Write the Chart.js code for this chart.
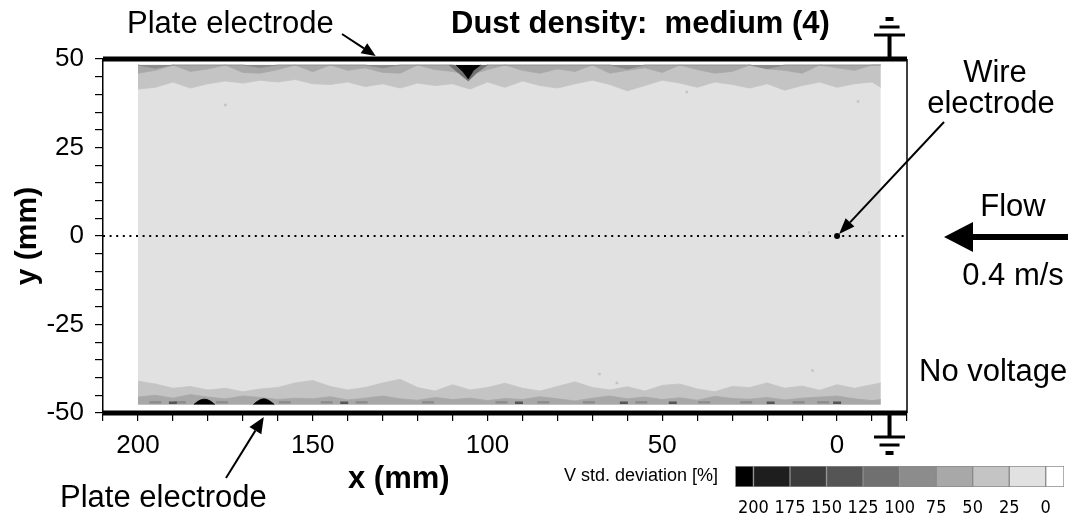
<!DOCTYPE html>
<html>
<head>
<meta charset="utf-8">
<script src="https://cdn.jsdelivr.net/npm/chart.js@4/dist/chart.umd.min.js"></script>
<style>
  body { margin: 0; background: #fff; }
  #wrap { position: relative; width: 1076px; height: 517px; overflow: hidden; }
  #chart { position: absolute; left: 0; top: 0; }
  #bar { position: absolute; left: 735px; top: 466px; }
</style>
</head>
<body>
<div id="wrap">
  <canvas id="chart" width="1076" height="517"></canvas>
  <canvas id="bar" width="329" height="50"></canvas>
</div>
<script>
const FONT = '"Liberation Sans", Arial, Helvetica, sans-serif';
const NARROW = '"Liberation Sans Narrow", "DejaVu Sans Condensed", "Liberation Sans", sans-serif';

// axes
const X_TICKS = [-20, -10, 0, 10, 20, 30, 40, 50, 60, 70, 80, 90, 100, 110, 120, 130, 140, 150, 160, 170, 180, 190, 200, 210];
const X_LABELS = [200, 150, 100, 50, 0];
const Y_TICKS = [-50, -45, -40, -35, -30, -25, -20, -15, -10, -5, 0, 5, 10, 15, 20, 25, 30, 35, 40, 45, 50];
const Y_LABELS = [50, 25, 0, -25, -50];

// measured region (mm)
const REGION_X = [200, -12.5];
const REGION_TOP = 48.3;
const REGION_BOTTOM = -47.6;

// contour edges sampled along x
const BAND_X = [200, 195, 190, 185, 180, 175, 170, 165, 160, 155, 150, 145, 140, 135, 130, 125, 120, 115, 110, 105, 100, 95, 90, 85, 80, 75, 70, 65, 60, 55, 50, 45, 40, 35, 30, 25, 20, 15, 10, 5, 0, -5, -10, -12.5];
// 25-50 % level, lower edge of the band under the top plate
const TOP_BAND_1 = [41.5, 42.0, 43.5, 41.8, 43.0, 43.8, 43.2, 44.0, 43.5, 44.2, 43.0, 42.8, 43.5, 42.2, 43.0, 41.8, 43.2, 42.5, 43.0, 41.5, 43.5, 42.0, 43.8, 42.5, 41.8, 43.0, 44.0, 42.8, 41.0, 42.5, 44.0, 43.2, 42.0, 43.5, 42.8, 41.8, 43.0, 41.2, 42.5, 43.5, 42.0, 43.0, 43.5, 42.0];
// 50-75 % level
const TOP_BAND_2 = [46.0, 46.8, 48.3, 46.5, 47.2, 48.3, 46.2, 46.0, 47.0, 48.3, 46.4, 48.3, 46.8, 47.5, 46.2, 46.0, 48.3, 47.0, 46.5, 45.5, 47.0, 48.3, 46.8, 46.0, 47.2, 46.5, 48.3, 46.0, 46.8, 47.5, 46.2, 48.3, 47.0, 46.0, 46.5, 48.3, 47.2, 46.8, 46.0, 48.3, 47.5, 46.8, 48.3, 48.3];
// 75-100 % level
const TOP_BAND_3 = [48.3, 47.4, 48.3, 48.3, 48.3, 48.3, 48.3, 47.6, 48.3, 48.3, 48.3, 48.3, 48.3, 48.3, 47.5, 48.3, 48.3, 48.3, 48.3, 47.0, 48.3, 48.3, 48.3, 48.3, 48.3, 48.3, 48.3, 48.3, 47.2, 48.3, 48.3, 48.3, 48.3, 48.3, 48.3, 48.3, 47.3, 48.3, 48.3, 48.3, 48.3, 48.3, 48.3, 48.3];
// dark spot at the top plate
const TOP_HALO_X = [111, 108, 105.5, 103, 100];
const TOP_HALO_Y = [48.3, 45.8, 43.8, 46.2, 48.3];
const TOP_SPOT_X = [109, 107, 105.5, 104, 102];
const TOP_SPOT_Y = [48.3, 46.4, 44.4, 46.8, 48.3];

// 25-50 % level, upper edge of the band over the bottom plate
const BOT_BAND_1 = [-41.0, -41.8, -43.0, -42.5, -43.5, -43.0, -44.0, -43.2, -42.8, -41.5, -40.8, -42.5, -43.5, -42.8, -41.5, -40.5, -42.8, -43.8, -42.0, -43.5, -42.8, -41.6, -43.0, -43.8, -42.5, -41.2, -42.8, -43.5, -42.6, -43.8, -42.2, -41.8, -43.2, -44.0, -42.5, -42.8, -41.5, -43.0, -42.4, -43.6, -42.0, -43.0, -42.0, -41.5];
// 50-75 % level
const BOT_BAND_2 = [-45.5, -45.0, -45.8, -44.8, -45.5, -46.0, -45.2, -45.6, -46.2, -45.8, -46.0, -45.4, -46.3, -45.8, -45.2, -46.0, -46.4, -45.6, -46.2, -45.8, -46.5, -45.9, -46.2, -45.4, -46.0, -46.6, -45.8, -45.2, -46.0, -45.5, -46.2, -45.7, -46.4, -45.3, -45.9, -46.1, -45.6, -46.3, -45.8, -45.5, -45.2, -46.0, -46.5, -46.2];
// small darker streaks on the bottom edge
const SMUDGE_MID_X = [195, 188, 176, 158, 146, 136, 117, 96, 84, 71, 56, 38, 26, 11, 4];
const SMUDGE_MID_Y = [-47.0, -47.0, -47.0, -47.0, -47.0, -47.0, -47.0, -47.0, -47.0, -47.0, -47.0, -47.0, -47.0, -47.0, -47.0];
const SMUDGE_DARK_X = [190, 141, 91, 61, 47, 19, 0];
const SMUDGE_DARK_Y = [-47.1, -47.1, -47.1, -47.1, -47.1, -47.1, -47.1];
// black spots on the bottom edge
const BOT_SPOT_1_X = [184, 182.5, 181, 179.5, 178];
const BOT_SPOT_1_Y = [-47.6, -46.5, -46.1, -46.5, -47.6];
const BOT_SPOT_2_X = [167, 165.5, 164, 162.5, 161];
const BOT_SPOT_2_Y = [-47.6, -46.5, -46.0, -46.5, -47.6];

// isolated specks
const FLECK_X = [175, 43, -6, 68, 63, 7, 8];
const FLECK_Y = [37, 40.7, 38, -39, -41.5, -38, 1];

// wire electrode
const WIRE_X = [0];
const WIRE_Y = [0];

// colour scale
const LEVEL_EDGES = [212.5, 200, 175, 150, 125, 100, 75, 50, 25, 0, -12.5];
const LEVEL_TICKS = [200, 175, 150, 125, 100, 75, 50, 25, 0];
const LEVEL_COLORS = ['#000000', '#1e1e1e', '#3c3c3c', '#555555', '#707070', '#8c8c8c', '#a8a8a8', '#c4c4c4', '#e1e1e1', '#ffffff'];

const pts = (xs, ys) => xs.map((x, i) => ({ x, y: ys[i] }));

function area(xs, ys, edge, color, order, tension) {
    return {
        data: pts(xs, ys),
        fill: { value: edge },
        backgroundColor: color,
        borderColor: color,
        borderWidth: 0.8,
        pointRadius: 0,
        tension: tension || 0,
        order: order
    };
}

function arrow(ctx, x1, y1, x2, y2, lw, hl, hw) {
    const a = Math.atan2(y2 - y1, x2 - x1);
    const bx = x2 - hl * Math.cos(a), by = y2 - hl * Math.sin(a);
    ctx.lineWidth = lw;
    ctx.beginPath(); ctx.moveTo(x1, y1); ctx.lineTo(bx, by); ctx.stroke();
    ctx.beginPath();
    ctx.moveTo(x2, y2);
    ctx.lineTo(bx + hw * Math.sin(a), by - hw * Math.cos(a));
    ctx.lineTo(bx - hw * Math.sin(a), by + hw * Math.cos(a));
    ctx.closePath(); ctx.fill();
}

// ground symbol, dir -1 = above the plate, +1 = below
function ground(ctx, cx, y0, dir) {
    ctx.fillRect(cx - 2, Math.min(y0, y0 + dir * 24), 4, 24);
    ctx.fillRect(cx - 15.5, y0 + dir * 24 - 1.5, 31, 3);
    ctx.fillRect(cx - 10, y0 + dir * 32 - 1.5, 20, 3);
    ctx.fillRect(cx - 4, y0 + dir * 40 - 2, 8, 4);
}

const annotations = {
    id: 'annotations',
    afterDraw(chart) {
        const { ctx, chartArea: ca, scales: { x, y } } = chart;
        ctx.save();
        ctx.fillStyle = '#000';
        ctx.strokeStyle = '#000';
        ctx.textBaseline = 'alphabetic';

        ctx.font = '31px ' + FONT;
        ctx.textAlign = 'left';
        ctx.fillText('Plate electrode', 127, 33);
        ctx.fillText('Plate electrode', 60, 507);
        ctx.fillText('No voltage', 919, 381);
        ctx.textAlign = 'center';
        ctx.fillText('Wire', 995, 82);
        ctx.fillText('electrode', 991, 113);
        ctx.fillText('Flow', 1013, 216);
        ctx.fillText('0.4 m/s', 1013, 285);

        ctx.font = 'bold 31px ' + FONT;
        ctx.textAlign = 'left';
        ctx.fillText('Dust density:  medium (4)', 451, 33);
        ctx.fillText('x (mm)', 348, 488);

        ctx.font = '18px ' + FONT;
        ctx.textAlign = 'right';
        ctx.fillText('V std. deviation [%]', 718, 481);

        const x0 = x.getPixelForValue(0), y0 = y.getPixelForValue(0);
        arrow(ctx, 342, 34, x.getPixelForValue(132), ca.top - 3, 2, 14, 6);
        arrow(ctx, 226, 478, x.getPixelForValue(164), ca.bottom + 4, 2, 16, 7);
        arrow(ctx, 944, 122, x0 + 2, y0 - 2, 2, 16, 6);
        arrow(ctx, 1068, y0 + 1, 944, y0 + 1, 6, 29, 15);

        const gx = x.getPixelForValue(-15);
        ground(ctx, gx, ca.top, -1);
        ground(ctx, gx, ca.bottom, 1);
        ctx.restore();
    }
};

new Chart(document.getElementById('chart'), {
    type: 'line',
    data: {
        datasets: [
            area(REGION_X, [REGION_TOP, REGION_TOP], REGION_BOTTOM, LEVEL_COLORS[8], 30),
            area(BAND_X, TOP_BAND_1, REGION_TOP, LEVEL_COLORS[7], 29),
            area(BAND_X, TOP_BAND_2, REGION_TOP, LEVEL_COLORS[6], 28),
            area(BAND_X, TOP_BAND_3, REGION_TOP, LEVEL_COLORS[5], 27),
            area(TOP_HALO_X, TOP_HALO_Y, REGION_TOP, LEVEL_COLORS[4], 26),
            area(TOP_SPOT_X, TOP_SPOT_Y, REGION_TOP, LEVEL_COLORS[0], 25),
            area(BAND_X, BOT_BAND_1, REGION_BOTTOM, LEVEL_COLORS[7], 24),
            area(BAND_X, BOT_BAND_2, REGION_BOTTOM, LEVEL_COLORS[6], 23),
            {
                data: pts(SMUDGE_MID_X, SMUDGE_MID_Y), showLine: false, order: 22,
                pointStyle: 'line', pointRadius: 6, pointBorderWidth: 2.5, pointBorderColor: LEVEL_COLORS[5]
            },
            {
                data: pts(SMUDGE_DARK_X, SMUDGE_DARK_Y), showLine: false, order: 21,
                pointStyle: 'line', pointRadius: 4, pointBorderWidth: 2.5, pointBorderColor: LEVEL_COLORS[3]
            },
            area(BOT_SPOT_1_X, BOT_SPOT_1_Y, REGION_BOTTOM, LEVEL_COLORS[0], 20, 0.4),
            area(BOT_SPOT_2_X, BOT_SPOT_2_Y, REGION_BOTTOM, LEVEL_COLORS[0], 20, 0.4),
            {
                data: pts(FLECK_X, FLECK_Y), showLine: false, order: 19,
                pointStyle: 'rect', pointRadius: 1.8, pointBorderWidth: 0, pointBackgroundColor: LEVEL_COLORS[7]
            },
            // dotted centre line through the wire
            {
                data: pts([210, -20], [0, 0]), borderColor: '#000', borderWidth: 2,
                borderDash: [2, 4.6], pointRadius: 0, order: 5
            },
            // plates
            {
                data: pts([210, -20], [50, 50]), borderColor: '#000', borderWidth: 5,
                pointRadius: 0, clip: false, order: 3
            },
            {
                data: pts([210, -20], [-50, -50]), borderColor: '#000', borderWidth: 5,
                pointRadius: 0, clip: false, order: 3
            },
            {
                data: pts([-20, -20], [-50, 50]), borderColor: '#000', borderWidth: 1.5,
                pointRadius: 0, clip: false, order: 3
            },
            {
                data: pts(WIRE_X, WIRE_Y), showLine: false, order: 1,
                pointRadius: 3, pointBackgroundColor: '#000', pointBorderWidth: 0
            }
        ]
    },
    options: {
        responsive: false,
        animation: false,
        events: [],
        layout: { padding: { top: 59, right: 169, left: 0, bottom: 0 } },
        plugins: { legend: { display: false }, tooltip: { enabled: false } },
        scales: {
            x: {
                type: 'linear',
                reverse: true,
                min: -20,
                max: 210,
                afterBuildTicks: s => { s.ticks = X_TICKS.map(v => ({ value: v })); },
                afterFit: s => { s.height = 104; },
                ticks: {
                    autoSkip: false, maxRotation: 0, padding: 9, color: '#000',
                    font: { family: FONT, size: 26 },
                    callback: v => X_LABELS.includes(v) ? String(v) : ''
                },
                grid: { drawOnChartArea: false, color: '#000', tickLength: 8, lineWidth: 1.2 },
                border: { color: '#000', width: 1.5 }
            },
            y: {
                type: 'linear',
                min: -50,
                max: 50,
                afterBuildTicks: s => { s.ticks = Y_TICKS.map(v => ({ value: v })); },
                afterFit: s => { s.width = 103; },
                ticks: {
                    autoSkip: false, padding: 11, color: '#000',
                    font: { family: FONT, size: 26 },
                    callback: v => Y_LABELS.includes(v) ? String(v) : ''
                },
                grid: { drawOnChartArea: false, color: '#000', tickLength: 8, lineWidth: 1.2 },
                border: { color: '#000', width: 1.5 },
                title: {
                    display: true, text: 'y (mm)', color: '#000',
                    font: { family: FONT, size: 30, weight: 'bold' },
                    padding: { top: 10, bottom: 0 }
                }
            }
        }
    },
    plugins: [annotations]
});

// colour scale bar
new Chart(document.getElementById('bar'), {
    type: 'bar',
    data: {
        labels: [''],
        datasets: LEVEL_COLORS.map((c, i) => ({
            data: [[LEVEL_EDGES[i + 1], LEVEL_EDGES[i]]],
            backgroundColor: c,
            borderColor: '#8a8a8a',
            borderWidth: 1,
            borderSkipped: false,
            grouped: false,
            barPercentage: 1,
            categoryPercentage: 1
        }))
    },
    options: {
        indexAxis: 'y',
        responsive: false,
        animation: false,
        events: [],
        layout: { padding: 0 },
        plugins: { legend: { display: false }, tooltip: { enabled: false } },
        scales: {
            y: { display: false },
            x: {
                type: 'linear',
                reverse: true,
                min: -12.5,
                max: 212.5,
                afterBuildTicks: s => { s.ticks = LEVEL_TICKS.map(v => ({ value: v })); },
                afterFit: s => { s.height = 29; },
                grid: { display: false },
                border: { display: false },
                ticks: {
                    autoSkip: false, maxRotation: 0, padding: 3, color: '#000',
                    font: { family: NARROW, size: 18 }
                }
            }
        }
    }
});
</script>
</body>
</html>
